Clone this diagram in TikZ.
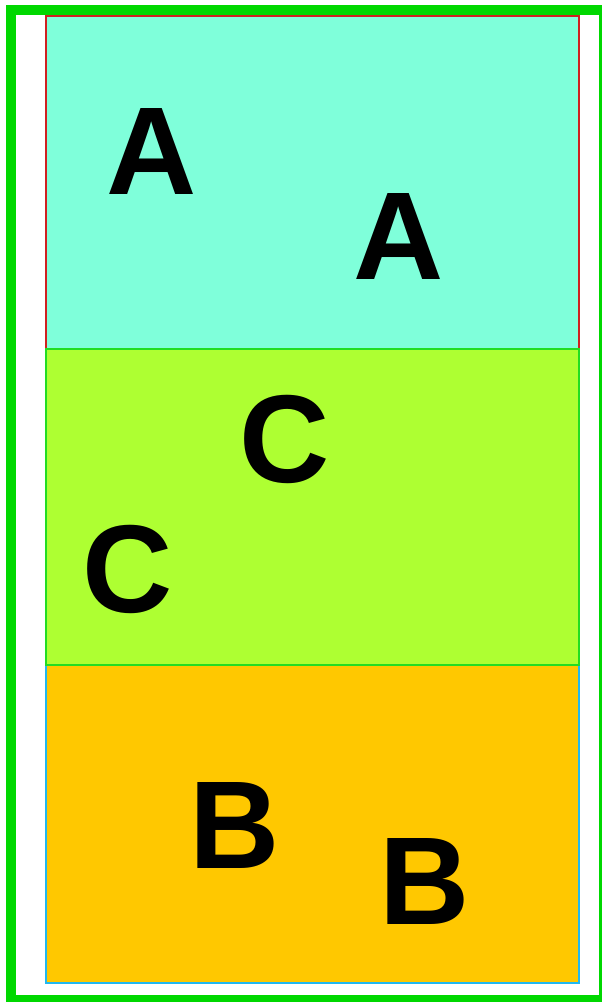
\documentclass[tikz,border=0pt]{standalone}
\usepackage{fontspec}
\setmainfont{Liberation Sans}
\definecolor{framegreen}{HTML}{00D800}
\definecolor{bandaqua}{HTML}{7FFFDA}
\definecolor{bandlime}{HTML}{AEFF32}
\definecolor{bandgold}{HTML}{FFC800}
\definecolor{edgered}{HTML}{D02020}
\definecolor{edgegreen}{HTML}{22DD22}
\definecolor{edgecyan}{HTML}{22B8F0}
\begin{document}
\begin{tikzpicture}[x=1pt, y=-1pt,
    band/.style={line width=2pt},
    letter/.style={font=\fontsize{125}{125}\selectfont\bfseries, inner sep=0pt}]
    \useasboundingbox (0,0) rectangle (602,1002);

    % Outer frame
    \draw[framegreen, line width=10pt] (11,10) rectangle (604,1000);

    % Three bands, the middle one drawn last
    \filldraw[band, fill=bandaqua, draw=edgered] (46,16) rectangle (579,349);
    \filldraw[band, fill=bandgold, draw=edgecyan] (46,665) rectangle (579,983);
    \filldraw[band, fill=bandlime, draw=edgegreen] (46,349) rectangle (579,665);

    % Letters
    \foreach \name/\x/\y/\txt in {topa/152/151/A, topb/399/236/A,
                                   mida/285/439/C, midb/128/569/C,
                                   lowa/235/825/B, lowb/425/881/B} {
        \node[letter] (\name) at (\x,\y) {\txt};
    }
\end{tikzpicture}
\end{document}
